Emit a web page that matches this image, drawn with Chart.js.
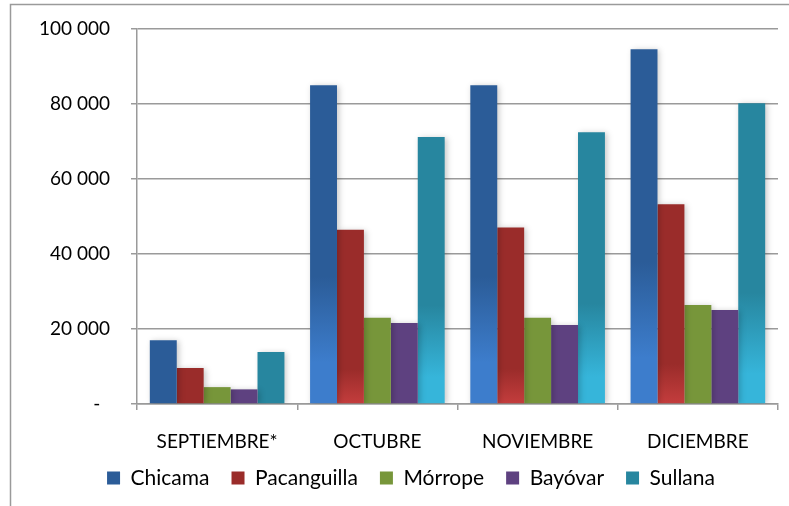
<!DOCTYPE html>
<html>
<head>
<meta charset="utf-8">
<script src="https://cdn.jsdelivr.net/npm/chart.js@4.4.0/dist/chart.umd.min.js"></script>
<style>
  html, body { margin: 0; padding: 0; background: #fff; }
  #wrap { position: relative; width: 789px; height: 506px; }
</style>
</head>
<body>
<div id="wrap"><canvas id="c" width="789" height="506"></canvas></div>
<script>
const categories = ['SEPTIEMBRE*', 'OCTUBRE', 'NOVIEMBRE', 'DICIEMBRE'];
const seriesNames = ['Chicama', 'Pacanguilla', 'Mórrope', 'Bayóvar', 'Sullana'];
const chicama     = [17000, 85000, 85000, 94600];
const pacanguilla = [9600, 46500, 47100, 53300];
const morrope     = [4500, 23000, 23000, 26400];
const bayovar     = [3900, 21600, 21100, 25100];
const sullana     = [13900, 71200, 72500, 80200];
const yTickValues = [0, 20000, 40000, 60000, 80000, 100000];

const darkColors  = ['#2b5c98', '#9a2c2a', '#77963a', '#5e4180', '#27869f'];
const lightColors = ['#3d7dcc', '#c43d3d', '#77963a', '#5e4180', '#36b5da'];
const gradStops   = [[0.6, 0.87], [0.8, 1.0], null, null, [0.63, 0.9]];
const allValues = [chicama, pacanguilla, morrope, bayovar, sullana];

function fmt(v) {
  if (v === 0) return '-  ';
  return String(v).replace(/\B(?=(\d{3})+(?!\d))/g, ' ');
}

function barFill(i) {
  return function(ctx) {
    const chart = ctx.chart;
    const stops = gradStops[i];
    if (!stops || !chart.chartArea || ctx.type !== 'data') return darkColors[i];
    const ys = chart.scales.y;
    const top = ys.getPixelForValue(ctx.raw);
    const base = ys.getPixelForValue(0);
    if (base - top < 120) return darkColors[i];
    const g = chart.ctx.createLinearGradient(0, top, 0, base);
    g.addColorStop(0, darkColors[i]);
    g.addColorStop(stops[0], darkColors[i]);
    g.addColorStop(stops[1], lightColors[i]);
    g.addColorStop(1, lightColors[i]);
    return g;
  };
}

const framePlugin = {
  id: 'frame',
  afterLayout(chart) {
    const lg = chart.legend;
    if (lg) {
      lg.top -= 7.5; lg.bottom -= 7.5;
      lg.left += 22; lg.right += 22;
    }
  },
  beforeDraw(chart) {
    const c = chart.ctx;
    c.save();
    c.strokeStyle = '#9a9a9a';
    c.lineWidth = 1.5;
    c.beginPath();
    c.moveTo(10.5, 520);
    c.lineTo(10.5, 4.5);
    c.lineTo(800, 4.5);
    c.stroke();
    c.restore();
  }
};

const shadowPlugin = {
  id: 'barShadow',
  beforeDatasetsDraw(chart) {
    const c = chart.ctx;
    c.save();
    c.shadowColor = 'rgba(0,0,0,0.22)';
    c.shadowBlur = 6;
    c.shadowOffsetX = 2;
    c.shadowOffsetY = 1;
  },
  afterDatasetsDraw(chart) {
    chart.ctx.restore();
  }
};

new Chart(document.getElementById('c'), {
  type: 'bar',
  data: {
    labels: categories,
    datasets: seriesNames.map((n, i) => ({
      label: n,
      data: allValues[i],
      backgroundColor: barFill(i),
      borderWidth: 0,
      categoryPercentage: 0.84,
      barPercentage: 1.0
    }))
  },
  options: {
    responsive: false,
    animation: false,
    devicePixelRatio: 1,
    layout: { padding: { left: 0, right: 11, top: 29, bottom: 0 } },
    plugins: {
      tooltip: { enabled: false },
      legend: {
        position: 'bottom',
        labels: {
          color: '#000',
          font: { family: 'Lato', size: 21 },
          boxWidth: 13,
          boxHeight: 13,
          padding: 22,
          generateLabels(chart) {
            return chart.data.datasets.map((d, i) => ({
              text: d.label,
              fillStyle: darkColors[i],
              strokeStyle: darkColors[i],
              lineWidth: 0,
              hidden: false,
              datasetIndex: i
            }));
          }
        }
      }
    },
    scales: {
      x: {
        afterFit(scale) { scale.height = 49; },
        grid: { display: true, drawOnChartArea: false, drawTicks: true, tickLength: 6, color: '#9a9a9a', lineWidth: 1.5, offset: true },
        border: { display: true, color: '#9a9a9a', width: 1.5 },
        ticks: { color: '#000', font: { family: 'Lato', size: 19 }, padding: 20, maxRotation: 0 }
      },
      y: {
        min: 0, max: 100000,
        afterBuildTicks(scale) { scale.ticks = yTickValues.map(v => ({ value: v })); },
        afterFit(scale) { scale.width = 137; scale.paddingTop = 0; scale.paddingBottom = 0; },
        grid: { color: '#9a9a9a', lineWidth: 1.5, tickLength: 6, drawTicks: true },
        border: { display: true, color: '#9a9a9a', width: 1.5 },
        ticks: { color: '#000', font: { family: 'Lato', size: 19 }, padding: 21, callback: v => fmt(v) }
      }
    }
  },
  plugins: [framePlugin, shadowPlugin]
});
</script>
</body>
</html>
